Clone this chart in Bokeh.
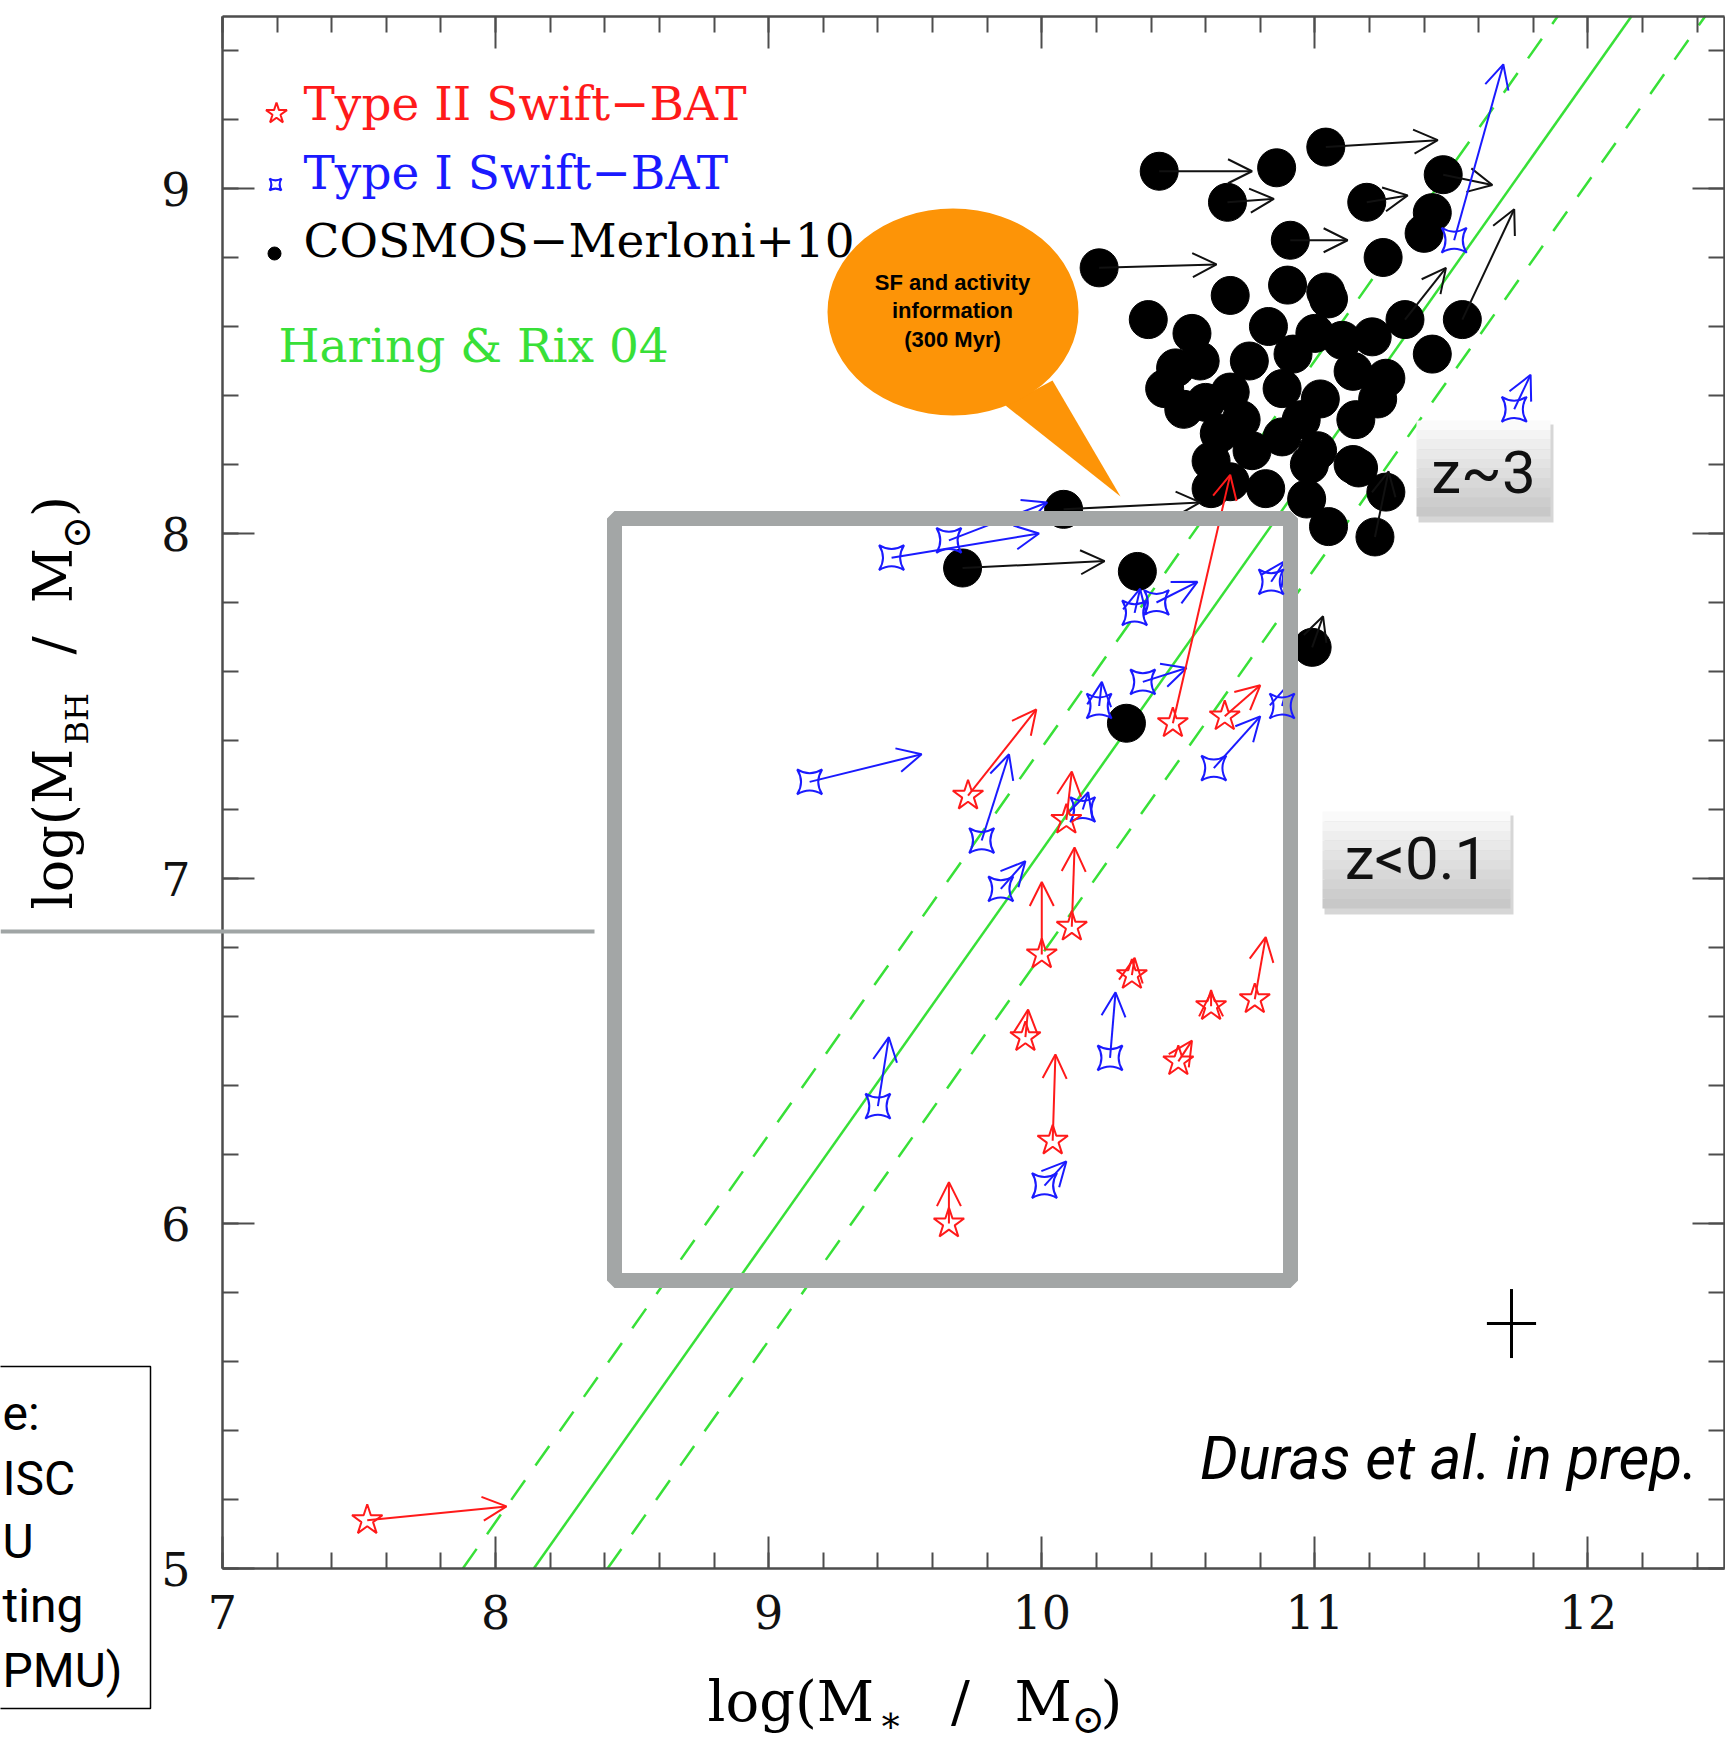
import numpy as np
from bokeh.plotting import figure
from bokeh.models import (ColumnDataSource, Arrow, OpenHead, Label, BoxAnnotation,
                          FixedTicker, LinearAxis, Range1d)
from bokeh.embed import file_html
from bokeh.resources import INLINE

# ---------------- data ----------------
# Type II Swift-BAT (red stars): position and arrow tip
t2_mstar = [7.53, 9.73, 10.09, 10.11, 10.00, 10.33, 9.94, 10.04, 9.66, 10.50, 10.62, 10.78, 10.48, 10.67]
t2_mbh = [5.14, 7.24, 7.17, 6.86, 6.78, 6.72, 6.54, 6.24, 6.00, 6.47, 6.63, 6.65, 7.45, 7.47]
t2_mstar_to = [8.04, 9.98, 10.11, 10.12, 10.00, 10.34, 9.95, 10.05, 9.66, 10.55, 10.62, 10.82, 10.69, 10.80]
t2_mbh_to = [5.18, 7.49, 7.31, 7.09, 6.99, 6.77, 6.62, 6.49, 6.12, 6.53, 6.67, 6.83, 8.17, 7.56]

# Type I Swift-BAT (blue stars)
t1_mstar = [9.15, 9.45, 9.66, 9.78, 9.85, 10.15, 9.40, 10.25, 10.01, 10.63, 10.34, 10.42, 10.21, 10.37, 10.84, 10.88, 11.51, 11.73]
t1_mbh = [7.28, 7.93, 7.98, 7.11, 6.97, 7.20, 6.34, 6.48, 6.11, 7.32, 7.77, 7.80, 7.50, 7.57, 7.86, 7.50, 8.85, 8.36]
t1_mstar_to = [9.56, 9.99, 10.02, 9.88, 9.94, 10.17, 9.44, 10.27, 10.09, 10.80, 10.36, 10.57, 10.22, 10.53, 10.89, 10.90, 11.69, 11.79]
t1_mbh_to = [7.36, 8.00, 8.09, 7.36, 7.05, 7.25, 6.54, 6.67, 6.18, 7.47, 7.84, 7.86, 7.57, 7.61, 7.92, 7.56, 9.36, 8.46]

# COSMOS - Merloni+10 (black dots); arrow tip None = no visible arrow
cosmos_mstar = [10.43, 10.86, 11.04, 10.68, 11.19, 11.47, 11.43, 11.40, 10.21, 10.91, 11.25, 10.39, 10.69,
                10.90, 11.05, 10.55, 10.49, 10.83, 10.92, 11.21, 11.33, 11.54, 11.43, 10.69, 10.88, 11.14,
                11.23, 10.65, 10.88, 11.15, 10.69, 11.16, 10.97, 11.26, 10.52, 10.98, 10.77, 11.01, 10.58,
                10.76, 11.02, 10.73, 10.95, 10.45, 10.62, 10.62, 10.82, 11.22, 11.14, 11.05, 10.99, 9.71,
                10.35, 10.08, 10.31, 11.04, 11.26, 11.00, 10.60, 11.10]
cosmos_mbh = [9.05, 9.06, 9.12, 8.96, 8.96, 9.04, 8.93, 8.87, 8.77, 8.85, 8.80, 8.62, 8.69,
              8.72, 8.68, 8.58, 8.48, 8.60, 8.52, 8.57, 8.62, 8.62, 8.52, 8.41, 8.42, 8.47,
              8.39, 8.29, 8.28, 8.33, 8.15, 8.19, 8.10, 8.12, 8.36, 8.20, 8.24, 8.24, 8.50,
              8.50, 8.39, 8.33, 8.33, 8.42, 8.21, 8.13, 8.13, 7.99, 8.20, 8.02, 7.67, 7.90,
              7.89, 8.07, 7.45, 8.70, 8.45, 8.58, 8.38, 8.56]
cosmos_mstar_to = [10.77, None, 11.45, 10.85, 11.34, 11.65, None, None, 10.64, 11.12, None, None, None,
                   None, None, None, None, None, None, None, 11.48, 11.73, None, None, None, None,
                   None, None, None, None, None, None, None, None, None, None, None, None, None,
                   None, None, None, None, None, None, None, None, 11.27, None, None, 11.03, 10.23,
                   None, 10.58, None, None, None, None, None, None]
cosmos_mbh_to = [9.05, None, 9.14, 8.97, 8.98, 9.01, None, None, 8.78, 8.85, None, None, None,
                 None, None, None, None, None, None, None, 8.77, 8.94, None, None, None, None,
                 None, None, None, None, None, None, None, None, None, None, None, None, None,
                 None, None, None, None, None, None, None, None, 8.18, None, None, 7.76, 7.92,
                 None, 8.09, None, None, None, None, None, None]

# Haring & Rix 04 relation (end points of the drawn lines)
hr_mstar = [8.14, 12.16]
hr_mbh = [5.0, 9.5]
hr_hi_mstar = [7.88, 11.89]
hr_hi_mbh = [5.0, 9.5]
hr_lo_mstar = [8.41, 12.43]
hr_lo_mbh = [5.0, 9.5]

# typical uncertainty cross
err_mstar, err_mbh, err_dmstar, err_dmbh = [11.72], [5.71], [0.09], [0.10]

x_ticks = [7, 8, 9, 10, 11, 12]
y_ticks = [5, 6, 7, 8, 9]

# ---------------- styling / geometry ----------------
RED, BLUE, GREEN, BLACK = "#ff1a1a", "#1a1aff", "#38e038", "#000000"
AXIS, GREYBOX, ORANGE = "#4d4d4d", "#a3a6a6", "#fd9407"

CW, CH = 1725, 1741                 # canvas size (page has no margin)
XA, XB, YA, YB = 7.0, 12.5, 5.0, 9.5  # data extent of the chart box
FL, FR, FT, FB = 222.0, 1724.0, 15.5, 1568.0   # pixel position of chart box
SX = (XB - XA) / (FR - FL)
SY = (YB - YA) / (FB - FT)
K_BASE = 0.36                         # baseline correction (fraction of font size)


def px(x):
    return XA + (x - FL) * SX


def py(y):
    return YB - (y - FT) * SY


p = figure(frame_width=CW, frame_height=CH,
           x_range=Range1d(px(0), px(CW)), y_range=Range1d(py(CH), py(0)),
           output_backend="svg", toolbar_location=None, min_border=0,
           outline_line_color=None, background_fill_color="white",
           border_fill_color="white")
p.grid.visible = False

xt = FixedTicker(ticks=x_ticks, minor_ticks=[round(v, 1) for v in np.arange(7.0, 12.5, 0.2)])
yt = FixedTicker(ticks=y_ticks, minor_ticks=[round(v, 1) for v in np.arange(5.0, 9.6, 0.2)])


def style_axis(ax, ticker, labels, loc, bounds, standoff=0):
    ax.ticker = ticker
    ax.fixed_location = loc
    ax.bounds = bounds
    ax.axis_line_color = AXIS
    ax.axis_line_width = 2.5
    ax.major_tick_line_color = AXIS
    ax.minor_tick_line_color = AXIS
    ax.major_tick_line_width = 2
    ax.minor_tick_line_width = 2
    ax.major_tick_in = 32
    ax.major_tick_out = 0
    ax.minor_tick_in = 16
    ax.minor_tick_out = 0
    if labels:
        ax.major_label_text_font = "DejaVu Serif"
        ax.major_label_text_font_size = "46px"
        ax.major_label_text_color = "#111111"
        ax.major_label_standoff = standoff
    else:
        ax.major_label_text_font_size = "0px"
        ax.major_label_standoff = 0
        ax.major_label_text_alpha = 0


style_axis(p.xaxis[0], xt, True, YA, (XA, XB), 26)
style_axis(p.yaxis[0], yt, True, XA, (YA, YB), 32)
top_ax = LinearAxis()
right_ax = LinearAxis()
style_axis(top_ax, xt, False, YB, (XA, XB))
style_axis(right_ax, yt, False, XB, (YA, YB))
p.add_layout(top_ax, "above")
p.add_layout(right_ax, "right")

# Haring & Rix lines
p.line(hr_mstar, hr_mbh, line_color=GREEN, line_width=2.5)
p.line(hr_hi_mstar, hr_hi_mbh, line_color=GREEN, line_width=2.5, line_dash="24 18")
p.line(hr_lo_mstar, hr_lo_mbh, line_color=GREEN, line_width=2.5, line_dash="24 18")

# COSMOS dots
p.scatter(cosmos_mstar, cosmos_mbh, size=38, fill_color=BLACK, line_color=BLACK)


def add_arrows(x0, y0, x1, y1, color):
    keep = [i for i in range(len(x0)) if x1[i] is not None]
    src = ColumnDataSource(dict(x0=[x0[i] for i in keep], y0=[y0[i] for i in keep],
                                x1=[x1[i] for i in keep], y1=[y1[i] for i in keep]))
    p.add_layout(Arrow(end=OpenHead(size=24, line_color=color, line_width=2),
                       source=src, x_start="x0", y_start="y0", x_end="x1", y_end="y1",
                       line_color=color, line_width=2))


add_arrows(cosmos_mstar, cosmos_mbh, cosmos_mstar_to, cosmos_mbh_to, "#111111")
add_arrows(t1_mstar, t1_mbh, t1_mstar_to, t1_mbh_to, BLUE)
add_arrows(t2_mstar, t2_mbh, t2_mstar_to, t2_mbh_to, RED)

p.scatter(t1_mstar, t1_mbh, marker="square_pin", size=25, fill_color=None,
          line_color=BLUE, line_width=2, level="overlay")
p.scatter(t2_mstar, t2_mbh, marker="star", size=32, fill_color=None,
          line_color=RED, line_width=2, level="overlay")

# typical error cross
ex = np.array(err_mstar); ey = np.array(err_mbh)
p.segment(ex - np.array(err_dmstar), ey, ex + np.array(err_dmstar), ey, line_color=BLACK, line_width=3)
p.segment(ex, ey - np.array(err_dmbh), ex, ey + np.array(err_dmbh), line_color=BLACK, line_width=3)


def label(text, x, y, size, color="black", font="DejaVu Serif", align="left",
          style="normal", angle=0):
    # (x, y): page position of the text's baseline start (or centre when align="center")
    if angle == 0:
        y = y - K_BASE * size
    else:
        x = x - K_BASE * size
    p.add_layout(Label(x=px(x), y=py(y), text=text, text_font=font,
                       text_font_size=f"{size}px", text_color=color, text_align=align,
                       text_baseline="alphabetic", text_font_style=style,
                       angle=angle, angle_units="deg"))


# legend (symbols + coloured texts)
p.scatter([px(276)], [py(113)], marker="star", size=22, fill_color=None, line_color=RED, line_width=2)
p.scatter([px(275)], [py(184)], marker="square_pin", size=12, fill_color=None, line_color=BLUE, line_width=2)
p.scatter([px(274)], [py(253)], size=13, fill_color=BLACK, line_color=BLACK)
label("Type II Swift\u2212BAT", 303, 120, 47, RED)
label("Type I Swift\u2212BAT", 303, 189, 47, BLUE)
label("COSMOS\u2212Merloni+10", 303, 257, 47, BLACK)
label("Haring & Rix 04", 278, 362, 47, GREEN)

# z<0.1 selection box
p.add_layout(BoxAnnotation(left=px(614), right=px(1290), top=py(518), bottom=py(1280),
                           fill_alpha=0, line_color=GREYBOX, line_alpha=1, line_width=15))

# speech bubble
p.patch([px(1005), px(1052), px(1120)], [py(405), py(380), py(496)], fill_color=ORANGE, line_color=None)
p.ellipse(x=[px(952.5)], y=[py(311.5)], width=251 * SX, height=207 * SY,
          fill_color=ORANGE, line_color=None)
label("SF and activity", 952, 290, 22, font="Liberation Sans", align="center", style="bold")
label("information", 952, 318, 22, font="Liberation Sans", align="center", style="bold")
label("(300 Myr)", 952, 347, 22, font="Liberation Sans", align="center", style="bold")


# redshift tags
def tag(text, left, right, top, bottom, tx, ty):
    p.add_layout(BoxAnnotation(left=px(left + 2), right=px(right + 3), top=py(top + 4),
                               bottom=py(bottom + 6), fill_color="#000000", fill_alpha=0.16,
                               line_alpha=0))
    n = 10
    for i in range(n):
        g = int(250 - (250 - 200) * i / (n - 1))
        t0 = top + (bottom - top) * i / n
        t1 = top + (bottom - top) * (i + 1) / n
        p.add_layout(BoxAnnotation(left=px(left), right=px(right), top=py(t0), bottom=py(t1),
                                   fill_color=f"#{g:02x}{g:02x}{g:02x}", fill_alpha=1,
                                   line_alpha=0))
    label(text, tx, ty, 60, "#111111", font="Roboto", align="center")


tag("z~3", 1416, 1550, 420, 516, 1483, 494)
tag("z<0.1", 1322, 1510, 811, 908, 1416, 880)

label("Duras et al. in prep.", 1697, 1480, 60, BLACK, font="Roboto", align="right", style="italic")

# axis titles
label("log(M", 72, 909, 54, angle=90)
label("BH", 88, 744, 32, angle=90)
label("/", 72, 645, 54, align="center", angle=90)
label("M", 72, 575, 54, align="center", angle=90)
label("\u2299", 90, 532, 40, align="center", angle=90)
label(")", 72, 506, 54, align="center", angle=90)

label("log(M", 707, 1721, 56)
label("\u2217", 878, 1732, 36)
label("/", 960, 1721, 56, align="center")
label("M", 1014, 1721, 56)
label("\u2299", 1071, 1733, 40)
label(")", 1100, 1721, 56)

# slide elements outside the chart
p.add_layout(Arrow(end=None, x_start=px(0), y_start=py(931), x_end=px(594), y_end=py(931),
                   line_color="#a0a5a5", line_width=4))
p.add_layout(BoxAnnotation(left=px(-40), right=px(150), top=py(1366), bottom=py(1708),
                           fill_alpha=0, line_color=BLACK, line_alpha=1, line_width=1.5))
label("e:", 2, 1430, 48, BLACK, font="Roboto")
label("ISC", 2, 1495, 48, BLACK, font="Roboto")
label("U", 2, 1558, 48, BLACK, font="Roboto")
label("ting", 2, 1622, 48, BLACK, font="Roboto")
label("PMU)", 2, 1687, 48, BLACK, font="Roboto")

open("out.html", "w").write(file_html(p, INLINE, title="MBH vs Mstar"))
